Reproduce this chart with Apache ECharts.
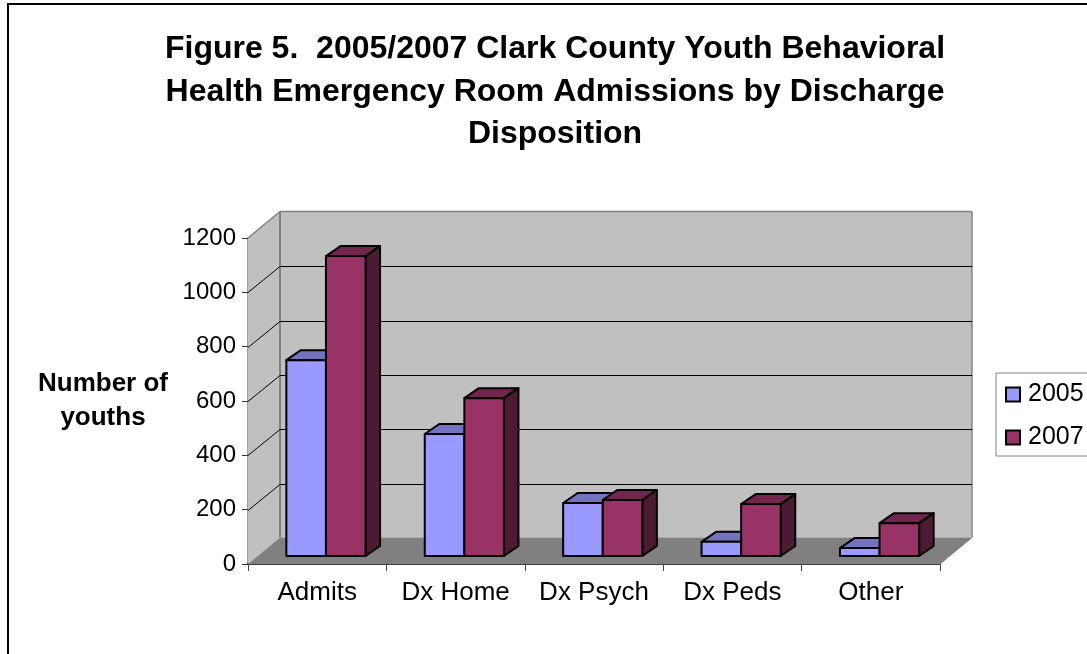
<!DOCTYPE html>
<html>
<head>
<meta charset="utf-8">
<style>html,body{margin:0;padding:0;background:#fff;overflow:hidden}#c{width:1087px;height:654px}</style>
<script src="https://cdn.jsdelivr.net/npm/echarts@6/dist/echarts.min.js"></script>
</head>
<body>
<div id="c"></div>
<script>
const categories = ['Admits', 'Dx Home', 'Dx Psych', 'Dx Peds', 'Other'];
const values2005 = [721, 449, 195, 52, 29];
const values2007 = [1104, 581, 206, 191, 121];
const tickValues = [200, 400, 600, 800, 1000, 1200];
const titleText = 'Figure 5.  2005/2007 Clark County Youth Behavioral\nHealth Emergency Room Admissions by Discharge\nDisposition';

const FONT = '"Liberation Sans", Arial, sans-serif';
const DEPTH_X = 32, DEPTH_Y = 26.5;       // oblique projection of the plot depth
const BAR_OFF_X = 8.75, BAR_OFF_Y = 8;    // bar front sits this far into the depth
const BAR_DX = 14.5, BAR_DY = 10;         // bar's own depth
const BAR_RATIO = 39.6 / 138.4;

const poly = (pts, fill, stroke, lw) => ({
  type: 'polygon', shape: { points: pts },
  style: { fill: fill, stroke: stroke || null, lineWidth: lw || 0, lineJoin: 'round' }
});
const line = (a, b, stroke, lw) => ({
  type: 'line', shape: { x1: a[0], y1: a[1], x2: b[0], y2: b[1] },
  style: { stroke: stroke, lineWidth: lw }
});

function plotFrame(api) {
  const band = api.size([1, 0])[0];
  const first = api.coord([0, 0]), last = api.coord([categories.length - 1, 0]);
  const top = api.coord([0, 1200])[1];
  return { l: first[0] - band / 2, r: last[0] + band / 2, b: first[1], t: top };
}

function renderWalls(params, api) {
  const f = plotFrame(api);
  const bl = f.l + DEPTH_X, br = f.r + DEPTH_X, bt = f.t - DEPTH_Y, bb = f.b - DEPTH_Y;
  return {
    type: 'group',
    children: [
      poly([[bl, bt], [br, bt], [br, bb], [bl, bb]], '#C0C0C0'),
      poly([[f.l, f.t], [bl, bt], [bl, bb], [f.l, f.b]], '#C0C0C0'),
      poly([[f.l, f.b], [f.r, f.b], [br, bb], [bl, bb]], '#808080'),
      line([bl, bt], [br, bt], '#808080', 1.5),
      line([bl, bt], [bl, bb], '#808080', 2),
      line([br, bt], [br, bb], '#808080', 1.5),
      line([f.l, f.t], [bl, bt], '#808080', 1.5),
      line([f.r, f.b], [br, bb], '#808080', 1)
    ]
  };
}

function renderGrid(params, api) {
  const f = plotFrame(api);
  const v = api.value(1);
  const y = Math.round(api.coord([0, v])[1]);
  if (v >= 1200) return { type: 'group', children: [] };
  const by = Math.round(y - DEPTH_Y) + 0.5;
  return {
    type: 'group',
    children: [
      line([f.l, y + 0.5], [f.l + DEPTH_X, by], '#000', 1),
      line([f.l + DEPTH_X, by], [f.r + DEPTH_X, by], '#000', 1)
    ]
  };
}

function barRenderer(seriesIndex, face, top, side) {
  return function (params, api) {
    const c = api.value(0), v = api.value(1);
    const band = api.size([1, 0])[0];
    const w = band * BAR_RATIO;
    const p = api.coord([c, v]), p0 = api.coord([c, 0]);
    const x0 = p[0] + BAR_OFF_X - (seriesIndex === 0 ? w : 0);
    const x1 = x0 + w;
    const yT = p[1] - BAR_OFF_Y, yB = p0[1] - BAR_OFF_Y;
    return {
      type: 'group',
      children: [
        poly([[x0, yT], [x1, yT], [x1 + BAR_DX, yT - BAR_DY], [x0 + BAR_DX, yT - BAR_DY]], top, '#000', 2),
        poly([[x1, yT], [x1 + BAR_DX, yT - BAR_DY], [x1 + BAR_DX, yB - BAR_DY], [x1, yB]], side, '#000', 2),
        poly([[x0, yT], [x1, yT], [x1, yB], [x0, yB]], face, '#000', 2)
      ]
    };
  };
}

const chart = echarts.init(document.getElementById('c'), null, { renderer: 'canvas' });
chart.setOption({
  animation: false,
  backgroundColor: '#fff',
  title: {
    text: titleText,
    left: 555, top: 28, textAlign: 'center', padding: 0,
    textStyle: { fontFamily: FONT, fontSize: 32, fontWeight: 'bold', color: '#000', lineHeight: 42.5 }
  },
  graphic: [{
    type: 'rect', z: -1, silent: true,
    shape: { x: 8, y: 4, width: 1300, height: 900 },
    style: { fill: null, stroke: '#000', lineWidth: 2 }
  }],
  legend: {
    data: [
      { name: '2005', icon: 'rect', itemStyle: { color: '#9999FF', borderColor: '#000', borderWidth: 2 } },
      { name: '2007', icon: 'rect', itemStyle: { color: '#993366', borderColor: '#000', borderWidth: 2 } }
    ],
    orient: 'vertical', left: 996, top: 373,
    padding: [9, 30, 6, 9],
    itemWidth: 14, itemHeight: 14, itemGap: 18,
    backgroundColor: '#fff', borderColor: '#808080', borderWidth: 1,
    textStyle: { fontFamily: FONT, fontSize: 25, color: '#000', padding: [0, 0, 0, 3] }
  },
  grid: { left: 248, top: 238, width: 692, height: 326, outerBoundsMode: 'none' },
  xAxis: {
    type: 'category', data: categories,
    axisLine: { show: true, lineStyle: { color: '#000', width: 1.5 } },
    axisTick: { show: true, length: 7, interval: 0, lineStyle: { color: '#444', width: 1 } },
    axisLabel: { fontFamily: FONT, fontSize: 26, color: '#000', margin: 16, interval: 0 },
    splitLine: { show: false }
  },
  yAxis: {
    type: 'value', min: 0, max: 1200, interval: 200,
    name: 'Number of\nyouths', nameLocation: 'middle', nameRotate: 0, nameGap: 145,
    nameTextStyle: { fontFamily: FONT, fontSize: 26, fontWeight: 'bold', color: '#000', lineHeight: 34, align: 'center', verticalAlign: 'middle' },
    axisLine: { show: true, lineStyle: { color: '#808080', width: 1.5 } },
    axisTick: { show: true, length: 6, lineStyle: { color: '#333', width: 1 } },
    axisLabel: { fontFamily: FONT, fontSize: 24, color: '#000', margin: 12, formatter: v => String(v) },
    splitLine: { show: false }
  },
  series: [
    { type: 'custom', name: 'walls', silent: true, z: 1, renderItem: renderWalls, data: [[0, 0]], encode: { x: 0, y: 1 } },
    { type: 'custom', name: 'gridlines', silent: true, z: 2, renderItem: renderGrid, data: tickValues.map(v => [0, v]), encode: { x: 0, y: 1 } },
    { type: 'custom', name: '2005', z: 3, itemStyle: { color: '#9999FF' },
      renderItem: barRenderer(0, '#9999FF', '#7373BF', '#4D4D80'),
      data: values2005.map((v, i) => [i, v]), encode: { x: 0, y: 1 } },
    { type: 'custom', name: '2007', z: 4, itemStyle: { color: '#993366' },
      renderItem: barRenderer(1, '#993366', '#73264D', '#4D1A33'),
      data: values2007.map((v, i) => [i, v]), encode: { x: 0, y: 1 } }
  ]
});
</script>
</body>
</html>
